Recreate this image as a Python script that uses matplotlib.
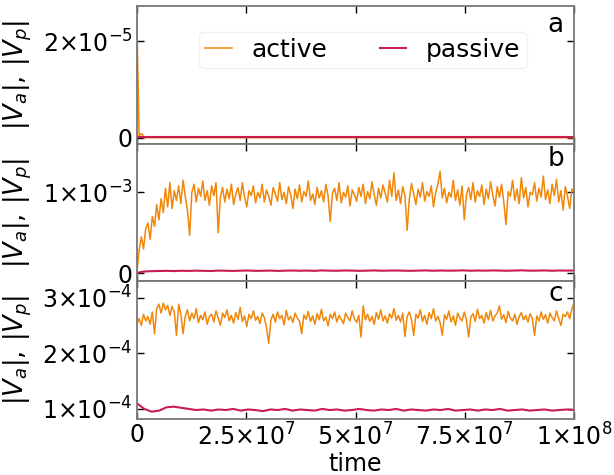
import numpy as np
import matplotlib
matplotlib.use("Agg")
import matplotlib.pyplot as plt
import matplotlib.gridspec as gridspec
from matplotlib.ticker import FixedLocator, FixedFormatter

# --- data ---
# panel a: short transient spike at the start, then ~0
a_time = [0, 0.15e6, 0.3e6, 0.5e6, 0.8e6, 1.0e6, 1.3e6, 1.5e6, 2e6, 1e8]
a_active = [2.57e-5, 1.6e-5, 1.0e-5, 0.1e-6, 0.8e-6, 0.8e-6, 0.8e-6, 0.05e-6, 0.05e-6, 0.05e-6]
a_pass_time = [0, 1e8]
a_passive = [1e-7, 1e-7]

# panel b, active in units of 1e-3 (200 samples over 0..1e8)
b_active = [
    0.02, 0.28, 0.45, 0.30, 0.55, 0.62, 0.42, 0.70, 0.58, 0.85, 0.66, 0.92, 0.75, 1.05, 0.82, 1.12, 0.80, 1.02, 0.90, 1.08,
    0.86, 1.15, 0.95, 0.78, 0.47, 1.00, 1.10, 0.88, 1.05, 0.95, 1.14, 0.90, 1.02, 0.84, 1.08, 0.96, 1.12, 0.50, 0.94, 1.06,
    0.88, 1.04, 0.92, 1.10, 0.85, 0.98, 1.06, 0.90, 1.12, 0.94, 0.82, 1.02, 0.96, 1.08, 0.87, 1.00, 0.93, 1.10, 0.88, 1.03,
    0.95, 0.84, 1.06, 0.98, 0.89, 1.12, 0.91, 1.00, 0.86, 1.07, 0.97, 0.80, 1.04, 0.92, 1.09, 0.88, 1.01, 0.95, 1.14, 0.90,
    0.98, 0.85, 1.06, 0.93, 1.02, 0.88, 1.10, 0.96, 0.64, 0.99, 1.05, 0.90, 1.12, 0.87, 1.00, 0.94, 1.08, 0.83, 1.03, 0.97,
    0.89, 1.06, 0.95, 1.10, 0.86, 1.01, 0.92, 1.13, 0.97, 0.84, 1.05, 0.93, 1.09, 0.99, 0.88, 1.15, 0.95, 1.24, 0.90, 1.03,
    0.86, 1.07, 0.96, 0.53, 0.92, 1.11, 0.98, 0.85, 1.04, 0.94, 1.12, 0.89, 1.01, 0.95, 1.08, 0.82, 1.00, 1.10, 1.26, 0.93,
    1.05, 0.87, 1.00, 0.94, 1.15, 0.90, 1.03, 0.84, 1.08, 0.66, 0.97, 1.06, 0.91, 1.12, 0.88, 1.02, 0.95, 1.09, 0.85, 1.04,
    0.92, 1.13, 0.96, 0.83, 1.07, 0.94, 1.10, 0.88, 0.60, 1.01, 0.95, 1.15, 0.90, 1.04, 0.86, 1.18, 0.93, 1.06, 0.82, 1.00,
    0.97, 1.12, 0.89, 1.05, 0.94, 1.20, 0.91, 1.03, 0.86, 1.10, 0.96, 1.16, 0.88, 1.02, 0.78, 1.07, 0.95, 0.80, 1.04, 1.00,
]
# panel b, passive in units of 1e-3 (60 samples)
b_passive = [
    0.005, 0.022, 0.026, 0.028, 0.030, 0.027, 0.031, 0.029, 0.032, 0.030, 0.028, 0.033, 0.031, 0.029, 0.032,
    0.034, 0.030, 0.031, 0.033, 0.029, 0.032, 0.034, 0.031, 0.033, 0.030, 0.035, 0.032, 0.031, 0.034, 0.033,
    0.030, 0.032, 0.035, 0.031, 0.033, 0.034, 0.032, 0.030, 0.033, 0.035, 0.031, 0.034, 0.032, 0.033, 0.036,
    0.031, 0.034, 0.032, 0.035, 0.033, 0.031, 0.034, 0.036, 0.032, 0.033, 0.035, 0.031, 0.034, 0.033, 0.034,
]

# panel c, active in units of 1e-4 (200 samples)
c_active = [
    2.53, 2.62, 2.50, 2.70, 2.58, 2.66, 2.52, 2.74, 2.35, 2.80, 2.88, 2.72, 2.90, 2.78, 2.86, 2.68, 2.84, 2.74, 2.32, 2.88,
    2.70, 2.35, 2.66, 2.78, 2.58, 2.72, 2.62, 2.80, 2.55, 2.68, 2.60, 2.74, 2.52, 2.66, 2.70, 2.56, 2.76, 2.63, 2.50, 2.72,
    2.64, 2.78, 2.58, 2.68, 2.54, 2.73, 2.61, 2.82, 2.57, 2.67, 2.48, 2.70, 2.62, 2.76, 2.59, 2.66, 2.53, 2.72, 2.64, 2.45,
    2.18, 2.60, 2.70, 2.56, 2.74, 2.62, 2.68, 2.51, 2.77, 2.60, 2.66, 2.55, 2.72, 2.63, 2.58, 2.35, 2.69, 2.61, 2.75, 2.57,
    2.67, 2.52, 2.71, 2.60, 2.79, 2.58, 2.65, 2.49, 2.70, 2.62, 2.74, 2.56, 2.68, 2.61, 2.53, 2.72, 2.64, 2.58, 2.76, 2.62,
    2.55, 2.68, 2.29, 2.85, 2.60, 2.70, 2.57, 2.66, 2.52, 2.73, 2.61, 2.78, 2.58, 2.67, 2.54, 2.71, 2.63, 2.80, 2.59, 2.68,
    2.56, 2.72, 2.30, 2.66, 2.74, 2.60, 2.32, 2.70, 2.63, 2.78, 2.57, 2.68, 2.52, 2.73, 2.62, 2.80, 2.58, 2.66, 2.55, 2.32,
    2.69, 2.61, 2.76, 2.56, 2.67, 2.50, 2.72, 2.63, 2.58, 2.74, 2.60, 2.29, 2.65, 2.71, 2.57, 2.79, 2.62, 2.68, 2.54, 2.73,
    2.60, 2.77, 2.58, 2.67, 2.72, 2.85, 2.61, 2.69, 2.55, 2.75, 2.63, 2.58, 2.70, 2.52, 2.66, 2.73, 2.60, 2.68, 2.56, 2.71,
    2.62, 2.32, 2.67, 2.58, 2.74, 2.61, 2.69, 2.54, 2.72, 2.64, 2.58, 2.76, 2.62, 2.50, 2.70, 2.66, 2.74, 2.62, 2.80, 2.90,
]
# panel c, passive in units of 1e-4 (60 samples)
c_passive = [
    1.10, 1.00, 0.95, 0.97, 1.03, 1.04, 1.02, 1.00, 0.98, 0.99, 0.97, 0.99, 0.98, 1.00, 0.97,
    0.99, 0.98, 0.96, 0.99, 0.98, 1.00, 0.97, 0.99, 0.98, 0.97, 1.00, 0.98, 0.99, 0.97, 0.98,
    1.00, 0.98, 0.97, 0.99, 0.98, 1.00, 0.97, 0.99, 0.98, 0.97, 0.99, 0.98, 1.00, 0.97, 0.98,
    0.99, 0.97, 0.99, 0.98, 1.00, 0.97, 0.98, 0.99, 0.97, 0.98, 0.99, 0.97, 0.98, 0.99, 0.98,
]

x_ticks = [0, 2.5e7, 5e7, 7.5e7, 1e8]
x_labels = ['0', r'$2.5{\times}10^{7}$', r'$5{\times}10^{7}$', r'$7.5{\times}10^{7}$', r'$1{\times}10^{8}$']

T_END = 1e8
ACTIVE_C = '#f0870a'
PASSIVE_C = '#c81d4e'

plt.rcParams['font.size'] = 17

t_act = np.linspace(0, T_END, len(b_active))
t_pas = np.linspace(0, T_END, len(b_passive))

fig = plt.figure(figsize=(6.14, 4.75), dpi=100)
gs = gridspec.GridSpec(3, 1, hspace=0, left=0.223, right=0.935, top=0.987, bottom=0.118)

panels = [
    (a_time, np.array(a_active), a_pass_time, np.array(a_passive),
     (-1.2e-6, 2.72e-5), [0, 2e-5], ['0', r'$2{\times}10^{-5}$'], 'a', 0.81),
    (t_act, np.array(b_active) * 1e-3, t_pas, np.array(b_passive) * 1e-3,
     (-1.0e-4, 1.6e-3), [0, 1e-3], ['0', r'$1{\times}10^{-3}$'], 'b', 0.84),
    (np.linspace(0, T_END, len(c_active)), np.array(c_active) * 1e-4,
     np.linspace(0, T_END, len(c_passive)), np.array(c_passive) * 1e-4,
     (0.82e-4, 3.29e-4), [1e-4, 2e-4, 3e-4],
     [r'$1{\times}10^{-4}$', r'$2{\times}10^{-4}$', r'$3{\times}10^{-4}$'], 'c', 0.86),
]

axes = []
for k, (ta, va, tp, vp, ylim, yt, ytl, letter, ly) in enumerate(panels):
    ax = fig.add_subplot(gs[k])
    ax.plot(ta, va, color=ACTIVE_C, lw=1.1, label='active')
    ax.plot(tp, vp, color=PASSIVE_C, lw=1.5, label='passive')
    ax.set_xlim(0, T_END)
    ax.set_ylim(*ylim)
    ax.yaxis.set_major_locator(FixedLocator(yt))
    ax.yaxis.set_major_formatter(FixedFormatter(ytl))
    ax.xaxis.set_major_locator(FixedLocator(x_ticks))
    if k == 2:
        ax.xaxis.set_major_formatter(FixedFormatter(x_labels))
        ax.set_xlabel('time', labelpad=1)
    else:
        ax.tick_params(labelbottom=False)
    ax.tick_params(direction='in', top=True, right=True, length=5, width=1, labelsize=17, pad=3)
    for s in ax.spines.values():
        s.set_color('#777777')
        s.set_linewidth(1.3)
    ax.set_ylabel(r'$|V_a|,\,|V_p|$', fontsize=18.5)
    ax.text(0.958, ly, letter, transform=ax.transAxes, ha='center', va='baseline', fontsize=19)
    axes.append(ax)

for ax in axes:
    ax.yaxis.set_label_coords(-0.235, 0.5)

leg = axes[0].legend(loc='upper center', bbox_to_anchor=(0.517, 0.905), ncol=2, fontsize=18,
                     handlelength=1.05, columnspacing=2.1, borderpad=0.25, frameon=True)
leg.get_frame().set_edgecolor('#eeeeee')

plt.savefig('out.png', dpi=100)
